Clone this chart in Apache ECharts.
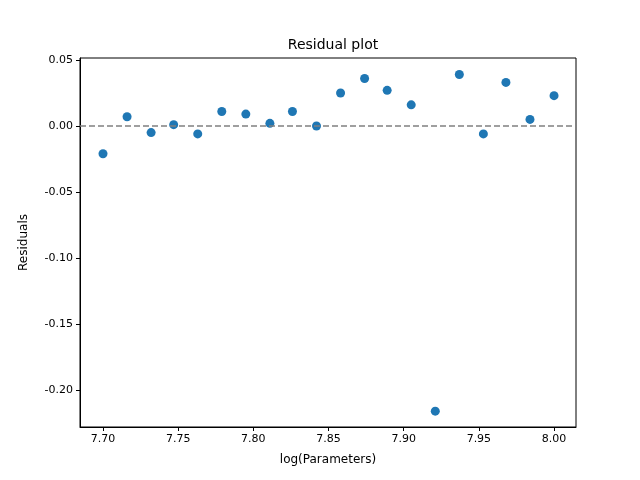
<!DOCTYPE html>
<html>
<head>
<meta charset="utf-8">
<script src="https://cdn.jsdelivr.net/npm/echarts@6/dist/echarts.min.js"></script>
<style>html,body{margin:0;padding:0;background:#fff}#main{width:640px;height:480px}</style>
</head>
<body>
<div id="main"></div>
<script>
var xValues = [7.700, 7.716, 7.732, 7.747, 7.763, 7.779, 7.795, 7.811, 7.826, 7.842,
	7.858, 7.874, 7.889, 7.905, 7.921, 7.937, 7.953, 7.968, 7.984, 8.000];
var residuals = [-0.021, 0.007, -0.005, 0.001, -0.006, 0.011, 0.009, 0.002, 0.011, 0.000,
	0.025, 0.036, 0.027, 0.016, -0.216, 0.039, -0.006, 0.033, 0.005, 0.023];
var xTicks = [7.70, 7.75, 7.80, 7.85, 7.90, 7.95, 8.00];
var yTicks = [-0.20, -0.15, -0.10, -0.05, 0.00, 0.05];

var points = xValues.map(function(x, i) { return [x, residuals[i]]; });
var chart = echarts.init(document.getElementById('main'));
var font = 'DejaVu Sans';
chart.setOption({
	animation: false,
	title: {
		text: 'Residual plot',
		left: 328, top: 33, textAlign: 'center',
		textStyle: { fontFamily: font, fontSize: 14, fontWeight: 'normal', color: '#000' }
	},
	grid: { left: 80, right: 64, top: 58, bottom: 53 },
	xAxis: {
		type: 'value', min: 7.6847, max: 8.0146,
		name: 'log(Parameters)', nameLocation: 'middle', nameGap: 27,
		nameTextStyle: { fontFamily: font, fontSize: 12, color: '#000' },
		axisLine: { onZero: false, lineStyle: { color: '#000' } },
		axisTick: { show: true, length: 4, lineStyle: { color: '#000' }, customValues: xTicks },
		axisLabel: { fontFamily: font, fontSize: 11, color: '#000', margin: 7,
			customValues: xTicks, formatter: function(v) { return v.toFixed(2); } },
		splitLine: { show: false }
	},
	yAxis: {
		type: 'value', min: -0.228, max: 0.0515,
		name: 'Residuals', nameLocation: 'middle', nameGap: 50,
		nameTextStyle: { fontFamily: font, fontSize: 12, color: '#000' },
		axisLine: { show: true, onZero: false, lineStyle: { color: '#000' } },
		axisTick: { show: true, length: 4, lineStyle: { color: '#000' }, customValues: yTicks },
		axisLabel: { fontFamily: font, fontSize: 11, color: '#000', margin: 7,
			customValues: yTicks, formatter: function(v) { return v.toFixed(2); } },
		splitLine: { show: false }
	},
	graphic: [{
		type: 'rect', shape: { x: 80, y: 58, width: 496, height: 369 },
		style: { fill: 'none', stroke: '#000', lineWidth: 1 }, silent: true, z: 0
	}],
	series: [{
		type: 'scatter',
		data: points,
		symbolSize: 9,
		itemStyle: { color: '#1f77b4', opacity: 1 },
		markLine: {
			silent: true, symbol: 'none', label: { show: false },
			lineStyle: { type: [6, 3], color: '#808080', width: 1.5 },
			data: [{ yAxis: 0 }]
		}
	}]
});
</script>
</body>
</html>
